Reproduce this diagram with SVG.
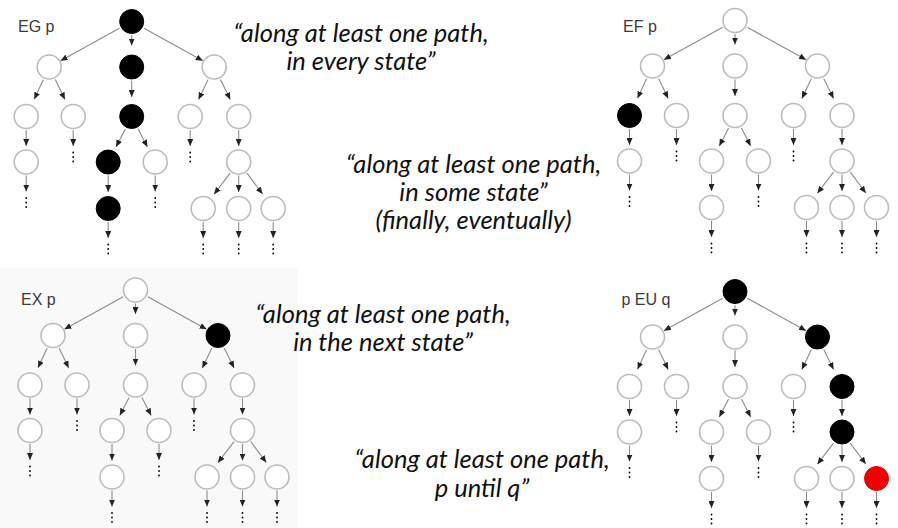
<svg xmlns="http://www.w3.org/2000/svg" xmlns:xlink="http://www.w3.org/1999/xlink" width="898" height="528" viewBox="0 0 898 528">
  <style>
    .s { fill: #ffffff; stroke: #bcbcbc; stroke-width: 1.6; }
    .k { fill: #000000; stroke: #000000; stroke-width: 1; }
    .r { fill: #ee0000; stroke: #e00000; stroke-width: 1; }
    .edges path { fill: none; stroke: #8c8c8c; stroke-width: 1.1; marker-end: url(#head); }
    .dots circle { fill: #666666; }
    .title { font-family: "Liberation Sans", Arial, sans-serif; font-size: 16px; fill: #3a3a3a; }
    .quote { font-family: Lato, "Open Sans", sans-serif; font-style: italic; font-size: 25.5px; fill: #111111; text-anchor: middle; }
  </style>
  <defs>
    <marker id="head" markerUnits="userSpaceOnUse" markerWidth="7" markerHeight="6" refX="7" refY="3" orient="auto">
      <path d="M0,0 L7,3 L0,6 z" fill="#222222"/>
    </marker>
    <g id="more">
      <circle cx="0" cy="0" r="0.9"/>
      <circle cx="0" cy="4.5" r="0.9"/>
      <circle cx="0" cy="9" r="0.9"/>
    </g>
  </defs>

  <rect x="0" y="0" width="898" height="528" fill="#ffffff"/>
  <rect x="0" y="268" width="298" height="260" fill="#f9f9f9"/>

  <!-- EG p -->
  <g id="tree-eg" transform="translate(131.7,21.5)">
    <g class="edges">
      <path d="M-12.3 6.8 L-71.1 39.2"/>
      <path d="M0 13.5 L0 24"/>
      <path d="M12.3 6.8 L71.1 39.2"/>
      <path d="M-88.4 58.2 L-97.5 77.8"/>
      <path d="M-76.4 58.1 L-66.8 77.9"/>
      <path d="M0 59 L0 75.5"/>
      <path d="M76.4 58.1 L66.8 77.9"/>
      <path d="M88.7 58.1 L98.6 78"/>
      <path d="M-105.5 108.5 L-105.5 124.5"/>
      <path d="M-58.5 108.5 L-58.5 124.5"/>
      <path d="M-6.4 107.4 L-15.7 125.4"/>
      <path d="M6.4 107.4 L15.7 125.4"/>
      <path d="M58.5 108.5 L58.5 124.5"/>
      <path d="M107 108.5 L107 124.5"/>
      <path d="M-105.5 154 L-105.5 170"/>
      <path d="M-23.5 154 L-23.5 170.5"/>
      <path d="M23.5 154 L23.5 170"/>
      <path d="M98.5 151.6 L82.4 172.7"/>
      <path d="M107 154 L107 170.5"/>
      <path d="M115.3 151.7 L130.8 172.5"/>
      <path d="M-23.5 200.5 L-23.5 216.5"/>
      <path d="M71.5 200.5 L71.5 216.5"/>
      <path d="M107 200.5 L107 216.5"/>
      <path d="M141.5 200.5 L141.5 216.5"/>
    </g>
    <g class="dots">
      <use xlink:href="#more" x="-58.5" y="131"/>
      <use xlink:href="#more" x="58.5" y="131"/>
      <use xlink:href="#more" x="-105.5" y="176.5"/>
      <use xlink:href="#more" x="23.5" y="176.5"/>
      <use xlink:href="#more" x="-23.5" y="223"/>
      <use xlink:href="#more" x="71.5" y="223"/>
      <use xlink:href="#more" x="107" y="223"/>
      <use xlink:href="#more" x="141.5" y="223"/>
    </g>
    <g id="eg-root"><circle class="k" cx="0" cy="0" r="12"/></g>
    <g id="eg-a"><circle class="s" cx="-82.5" cy="45.5" r="12"/></g>
    <g id="eg-b"><circle class="k" cx="0" cy="45.5" r="12"/></g>
    <g id="eg-c"><circle class="s" cx="82.5" cy="45.5" r="12"/></g>
    <g id="eg-a1"><circle class="s" cx="-105.5" cy="95" r="12"/></g>
    <g id="eg-a2"><circle class="s" cx="-58.5" cy="95" r="12"/></g>
    <g id="eg-b1"><circle class="k" cx="0" cy="95" r="12"/></g>
    <g id="eg-c1"><circle class="s" cx="58.5" cy="95" r="12"/></g>
    <g id="eg-c2"><circle class="s" cx="107" cy="95" r="12"/></g>
    <g id="eg-a1a"><circle class="s" cx="-105.5" cy="140.5" r="12"/></g>
    <g id="eg-b1a"><circle class="k" cx="-23.5" cy="140.5" r="12"/></g>
    <g id="eg-b1b"><circle class="s" cx="23.5" cy="140.5" r="12"/></g>
    <g id="eg-c2a"><circle class="s" cx="107" cy="140.5" r="12"/></g>
    <g id="eg-b1a1"><circle class="k" cx="-23.5" cy="187" r="12"/></g>
    <g id="eg-c2a1"><circle class="s" cx="71.5" cy="187" r="12"/></g>
    <g id="eg-c2a2"><circle class="s" cx="107" cy="187" r="12"/></g>
    <g id="eg-c2a3"><circle class="s" cx="141.5" cy="187" r="12"/></g>
  </g>

  <!-- EF p -->
  <g id="tree-ef" transform="translate(735,20.5)">
    <g class="edges">
      <path d="M-12.3 6.8 L-71.1 39.2"/>
      <path d="M0 13.5 L0 24"/>
      <path d="M12.3 6.8 L71.1 39.2"/>
      <path d="M-88.4 58.2 L-97.5 77.8"/>
      <path d="M-76.4 58.1 L-66.8 77.9"/>
      <path d="M0 59 L0 75.5"/>
      <path d="M76.4 58.1 L66.8 77.9"/>
      <path d="M88.7 58.1 L98.6 78"/>
      <path d="M-105.5 108.5 L-105.5 124.5"/>
      <path d="M-58.5 108.5 L-58.5 124.5"/>
      <path d="M-6.4 107.4 L-15.7 125.4"/>
      <path d="M6.4 107.4 L15.7 125.4"/>
      <path d="M58.5 108.5 L58.5 124.5"/>
      <path d="M107 108.5 L107 124.5"/>
      <path d="M-105.5 154 L-105.5 170"/>
      <path d="M-23.5 154 L-23.5 170.5"/>
      <path d="M23.5 154 L23.5 170"/>
      <path d="M98.5 151.6 L82.4 172.7"/>
      <path d="M107 154 L107 170.5"/>
      <path d="M115.3 151.7 L130.8 172.5"/>
      <path d="M-23.5 200.5 L-23.5 216.5"/>
      <path d="M71.5 200.5 L71.5 216.5"/>
      <path d="M107 200.5 L107 216.5"/>
      <path d="M141.5 200.5 L141.5 216.5"/>
    </g>
    <g class="dots">
      <use xlink:href="#more" x="-58.5" y="131"/>
      <use xlink:href="#more" x="58.5" y="131"/>
      <use xlink:href="#more" x="-105.5" y="176.5"/>
      <use xlink:href="#more" x="23.5" y="176.5"/>
      <use xlink:href="#more" x="-23.5" y="223"/>
      <use xlink:href="#more" x="71.5" y="223"/>
      <use xlink:href="#more" x="107" y="223"/>
      <use xlink:href="#more" x="141.5" y="223"/>
    </g>
    <g id="ef-root"><circle class="s" cx="0" cy="0" r="12"/></g>
    <g id="ef-a"><circle class="s" cx="-82.5" cy="45.5" r="12"/></g>
    <g id="ef-b"><circle class="s" cx="0" cy="45.5" r="12"/></g>
    <g id="ef-c"><circle class="s" cx="82.5" cy="45.5" r="12"/></g>
    <g id="ef-a1"><circle class="k" cx="-105.5" cy="95" r="12"/></g>
    <g id="ef-a2"><circle class="s" cx="-58.5" cy="95" r="12"/></g>
    <g id="ef-b1"><circle class="s" cx="0" cy="95" r="12"/></g>
    <g id="ef-c1"><circle class="s" cx="58.5" cy="95" r="12"/></g>
    <g id="ef-c2"><circle class="s" cx="107" cy="95" r="12"/></g>
    <g id="ef-a1a"><circle class="s" cx="-105.5" cy="140.5" r="12"/></g>
    <g id="ef-b1a"><circle class="s" cx="-23.5" cy="140.5" r="12"/></g>
    <g id="ef-b1b"><circle class="s" cx="23.5" cy="140.5" r="12"/></g>
    <g id="ef-c2a"><circle class="s" cx="107" cy="140.5" r="12"/></g>
    <g id="ef-b1a1"><circle class="s" cx="-23.5" cy="187" r="12"/></g>
    <g id="ef-c2a1"><circle class="s" cx="71.5" cy="187" r="12"/></g>
    <g id="ef-c2a2"><circle class="s" cx="107" cy="187" r="12"/></g>
    <g id="ef-c2a3"><circle class="s" cx="141.5" cy="187" r="12"/></g>
  </g>

  <!-- EX p -->
  <g id="tree-ex" transform="translate(135.5,290)">
    <g class="edges">
      <path d="M-12.3 6.8 L-71.1 39.2"/>
      <path d="M0 13.5 L0 24"/>
      <path d="M12.3 6.8 L71.1 39.2"/>
      <path d="M-88.4 58.2 L-97.5 77.8"/>
      <path d="M-76.4 58.1 L-66.8 77.9"/>
      <path d="M0 59 L0 75.5"/>
      <path d="M76.4 58.1 L66.8 77.9"/>
      <path d="M88.7 58.1 L98.6 78"/>
      <path d="M-105.5 108.5 L-105.5 124.5"/>
      <path d="M-58.5 108.5 L-58.5 124.5"/>
      <path d="M-6.4 107.4 L-15.7 125.4"/>
      <path d="M6.4 107.4 L15.7 125.4"/>
      <path d="M58.5 108.5 L58.5 124.5"/>
      <path d="M107 108.5 L107 124.5"/>
      <path d="M-105.5 154 L-105.5 170"/>
      <path d="M-23.5 154 L-23.5 170.5"/>
      <path d="M23.5 154 L23.5 170"/>
      <path d="M98.5 151.6 L82.4 172.7"/>
      <path d="M107 154 L107 170.5"/>
      <path d="M115.3 151.7 L130.8 172.5"/>
      <path d="M-23.5 200.5 L-23.5 216.5"/>
      <path d="M71.5 200.5 L71.5 216.5"/>
      <path d="M107 200.5 L107 216.5"/>
      <path d="M141.5 200.5 L141.5 216.5"/>
    </g>
    <g class="dots">
      <use xlink:href="#more" x="-58.5" y="131"/>
      <use xlink:href="#more" x="58.5" y="131"/>
      <use xlink:href="#more" x="-105.5" y="176.5"/>
      <use xlink:href="#more" x="23.5" y="176.5"/>
      <use xlink:href="#more" x="-23.5" y="223"/>
      <use xlink:href="#more" x="71.5" y="223"/>
      <use xlink:href="#more" x="107" y="223"/>
      <use xlink:href="#more" x="141.5" y="223"/>
    </g>
    <g id="ex-root"><circle class="s" cx="0" cy="0" r="12"/></g>
    <g id="ex-a"><circle class="s" cx="-82.5" cy="45.5" r="12"/></g>
    <g id="ex-b"><circle class="s" cx="0" cy="45.5" r="12"/></g>
    <g id="ex-c"><circle class="k" cx="82.5" cy="45.5" r="12"/></g>
    <g id="ex-a1"><circle class="s" cx="-105.5" cy="95" r="12"/></g>
    <g id="ex-a2"><circle class="s" cx="-58.5" cy="95" r="12"/></g>
    <g id="ex-b1"><circle class="s" cx="0" cy="95" r="12"/></g>
    <g id="ex-c1"><circle class="s" cx="58.5" cy="95" r="12"/></g>
    <g id="ex-c2"><circle class="s" cx="107" cy="95" r="12"/></g>
    <g id="ex-a1a"><circle class="s" cx="-105.5" cy="140.5" r="12"/></g>
    <g id="ex-b1a"><circle class="s" cx="-23.5" cy="140.5" r="12"/></g>
    <g id="ex-b1b"><circle class="s" cx="23.5" cy="140.5" r="12"/></g>
    <g id="ex-c2a"><circle class="s" cx="107" cy="140.5" r="12"/></g>
    <g id="ex-b1a1"><circle class="s" cx="-23.5" cy="187" r="12"/></g>
    <g id="ex-c2a1"><circle class="s" cx="71.5" cy="187" r="12"/></g>
    <g id="ex-c2a2"><circle class="s" cx="107" cy="187" r="12"/></g>
    <g id="ex-c2a3"><circle class="s" cx="141.5" cy="187" r="12"/></g>
  </g>

  <!-- p EU q -->
  <g id="tree-eu" transform="translate(735,291.5)">
    <g class="edges">
      <path d="M-12.3 6.8 L-71.1 39.2"/>
      <path d="M0 13.5 L0 24"/>
      <path d="M12.3 6.8 L71.1 39.2"/>
      <path d="M-88.4 58.2 L-97.5 77.8"/>
      <path d="M-76.4 58.1 L-66.8 77.9"/>
      <path d="M0 59 L0 75.5"/>
      <path d="M76.4 58.1 L66.8 77.9"/>
      <path d="M88.7 58.1 L98.6 78"/>
      <path d="M-105.5 108.5 L-105.5 124.5"/>
      <path d="M-58.5 108.5 L-58.5 124.5"/>
      <path d="M-6.4 107.4 L-15.7 125.4"/>
      <path d="M6.4 107.4 L15.7 125.4"/>
      <path d="M58.5 108.5 L58.5 124.5"/>
      <path d="M107 108.5 L107 124.5"/>
      <path d="M-105.5 154 L-105.5 170"/>
      <path d="M-23.5 154 L-23.5 170.5"/>
      <path d="M23.5 154 L23.5 170"/>
      <path d="M98.5 151.6 L82.4 172.7"/>
      <path d="M107 154 L107 170.5"/>
      <path d="M115.3 151.7 L130.8 172.5"/>
      <path d="M-23.5 200.5 L-23.5 216.5"/>
      <path d="M71.5 200.5 L71.5 216.5"/>
      <path d="M107 200.5 L107 216.5"/>
      <path d="M141.5 200.5 L141.5 216.5"/>
    </g>
    <g class="dots">
      <use xlink:href="#more" x="-58.5" y="131"/>
      <use xlink:href="#more" x="58.5" y="131"/>
      <use xlink:href="#more" x="-105.5" y="176.5"/>
      <use xlink:href="#more" x="23.5" y="176.5"/>
      <use xlink:href="#more" x="-23.5" y="223"/>
      <use xlink:href="#more" x="71.5" y="223"/>
      <use xlink:href="#more" x="107" y="223"/>
      <use xlink:href="#more" x="141.5" y="223"/>
    </g>
    <g id="eu-root"><circle class="k" cx="0" cy="0" r="12"/></g>
    <g id="eu-a"><circle class="s" cx="-82.5" cy="45.5" r="12"/></g>
    <g id="eu-b"><circle class="s" cx="0" cy="45.5" r="12"/></g>
    <g id="eu-c"><circle class="k" cx="82.5" cy="45.5" r="12"/></g>
    <g id="eu-a1"><circle class="s" cx="-105.5" cy="95" r="12"/></g>
    <g id="eu-a2"><circle class="s" cx="-58.5" cy="95" r="12"/></g>
    <g id="eu-b1"><circle class="s" cx="0" cy="95" r="12"/></g>
    <g id="eu-c1"><circle class="s" cx="58.5" cy="95" r="12"/></g>
    <g id="eu-c2"><circle class="k" cx="107" cy="95" r="12"/></g>
    <g id="eu-a1a"><circle class="s" cx="-105.5" cy="140.5" r="12"/></g>
    <g id="eu-b1a"><circle class="s" cx="-23.5" cy="140.5" r="12"/></g>
    <g id="eu-b1b"><circle class="s" cx="23.5" cy="140.5" r="12"/></g>
    <g id="eu-c2a"><circle class="k" cx="107" cy="140.5" r="12"/></g>
    <g id="eu-b1a1"><circle class="s" cx="-23.5" cy="187" r="12"/></g>
    <g id="eu-c2a1"><circle class="s" cx="71.5" cy="187" r="12"/></g>
    <g id="eu-c2a2"><circle class="s" cx="107" cy="187" r="12"/></g>
    <g id="eu-c2a3"><circle class="r" cx="141.5" cy="187" r="12"/></g>
  </g>

  <!-- operator names -->
  <g id="titles">
    <text class="title" x="18" y="31.5">EG p</text>
    <text class="title" x="623" y="31.5">EF p</text>
    <text class="title" x="21" y="305">EX p</text>
    <text class="title" x="621.5" y="305">p EU q</text>
  </g>

  <!-- readings of each operator -->
  <g id="captions">
    <text class="quote" x="361" y="42">“along at least one path,</text>
    <text class="quote" x="361" y="70">in every state”</text>
    <text class="quote" x="473.5" y="173">“along at least one path,</text>
    <text class="quote" x="473.5" y="201">in some state”</text>
    <text class="quote" x="473.5" y="229">(finally, eventually)</text>
    <text class="quote" x="383" y="323">“along at least one path,</text>
    <text class="quote" x="383" y="351">in the next state”</text>
    <text class="quote" x="482" y="468">“along at least one path,</text>
    <text class="quote" x="482" y="497">p until q”</text>
  </g>
</svg>
